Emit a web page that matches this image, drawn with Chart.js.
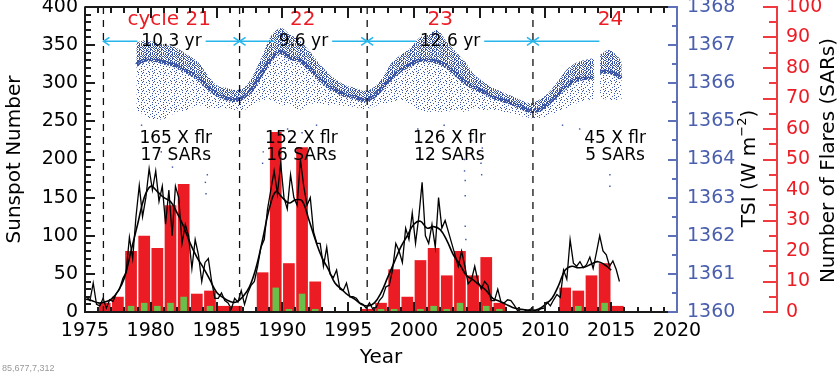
<!DOCTYPE html>
<html>
<head>
<meta charset="utf-8">
<script src="https://cdn.jsdelivr.net/npm/chart.js@4.4.1/dist/chart.umd.min.js"></script>
<style>
  html, body { margin: 0; padding: 0; background: #fff; }
  #wrap { position: relative; width: 839px; height: 374px; }
</style>
</head>
<body>
<div id="wrap"><canvas id="c"></canvas></div>
<script>
// ---- data ----
// sunspot number, one sample per quarter starting 1975.125
const ssnQuarterly = [
  20, 15, 38, 10,   8, 18, 5, 16,   14, 24, 30, 44,   52, 98, 70, 125,
  166, 125, 150, 188,   160, 185, 145, 165,   115, 160, 100, 165,   150, 90, 115, 100,
  57, 95, 75, 40,   65, 70, 40, 18,   18, 25, 15, 12,   4, 18, 13, 28,
  10, 25, 35, 40,   60, 85, 95, 135,   160, 185, 155, 195,   150, 135, 180, 150,
  140, 200, 165, 140,   150, 105, 90, 90,   60, 85, 50, 45,   55, 30, 28, 38,
  20, 20, 18, 12,   10, 5, 12, 4,   6, 15, 20, 33,   35, 55, 90, 80,
  65, 110, 95, 130,   90, 125, 170, 100,   90, 115, 85, 150,   110, 120, 105, 90,
  75, 60, 80, 60,   37, 42, 60, 40,   30, 40, 35, 15,   15, 30, 13, 12,
  16, 15, 9, 2,   3, 3, 1, 4,   2, 1, 4, 5,   13, 8, 16, 23,
  19, 55, 43, 95,   64, 60, 66, 58,   62, 72, 57, 78,   100, 80, 75, 60,
  67, 56, 40
];
// smoothed sunspot number, every half year from 1975.0
const ssnSmoothed = [
  17, 15, 12, 13, 17, 27, 45, 80, 115, 150,
  165, 158, 150, 145, 130, 112, 90, 72, 58, 42,
  26, 19, 14, 13, 20, 33, 58, 95, 135, 158,
  150, 143, 147, 146, 122, 95, 72, 56, 38, 30,
  22, 17, 10, 8, 12, 25, 45, 65, 85, 100,
  115, 119, 110, 112, 108, 94, 75, 62, 48, 42,
  35, 28, 18, 14, 10, 6, 4, 3, 2, 4,
  10, 18, 35, 55, 60, 58, 59, 63, 66, 62, 55
];

// yearly flare counts (right axis)
const barYears = [1976, 1977, 1978, 1979, 1980, 1981, 1982, 1983, 1984, 1985,
  1986, 1987, 1988, 1989, 1990, 1991, 1992, 1993, 1994, 1995,
  1996, 1997, 1998, 1999, 2000, 2001, 2002, 2003, 2004, 2005,
  2006, 2007, 2008, 2009, 2010, 2011, 2012, 2013, 2014, 2015];
const xFlares = [3, 5, 20, 25, 21, 35, 42, 6, 7, 2,
  2, 0, 13, 59, 16, 54, 10, 0, 0, 0,
  1, 3, 14, 5, 17, 21, 12, 20, 12, 18,
  3, 0, 0, 0, 0, 8, 7, 12, 16, 2];
const sarCounts = [0, 0, 2, 3, 2, 3, 5, 0, 2, 0,
  0, 0, 0, 8, 1, 6, 1, 0, 0, 0,
  0, 1, 1, 0, 1, 2, 1, 3, 0, 2,
  1, 0, 0, 0, 0, 0, 2, 0, 3, 0];

// TSI cloud: upper edge, dense core, lower edge (W m-2)
const tsiYears = [1978.9, 1979.5, 1980.3, 1981.2, 1982.0, 1982.8, 1983.6, 1984.3, 1985.0, 1985.7,
  1986.4, 1987.1, 1987.8, 1988.5, 1989.2, 1989.9, 1990.6, 1991.3, 1992.0, 1992.7,
  1993.4, 1994.1, 1994.8, 1995.5, 1996.2, 1996.9, 1997.6, 1998.3, 1999.0, 1999.7,
  2000.4, 2001.1, 2001.8, 2002.5, 2003.2, 2003.9, 2004.6, 2005.3, 2006.0, 2006.7,
  2007.4, 2008.1, 2008.8, 2009.5, 2010.2, 2010.9, 2011.6, 2012.3, 2013.0, 2013.7,
  2013.9, 2014.15, 2014.8, 2015.4, 2015.8];
const tsiTop = [1367.06, 1367.13, 1367.08, 1367.00, 1366.92, 1366.74, 1366.56, 1366.22, 1365.95, 1365.88,
  1365.82, 1365.88, 1366.22, 1366.74, 1367.27, 1367.45, 1367.27, 1367.13, 1366.87, 1366.56,
  1366.30, 1366.09, 1365.95, 1365.88, 1365.80, 1365.88, 1366.14, 1366.53, 1366.74, 1366.92,
  1367.19, 1367.27, 1367.40, 1367.08, 1366.82, 1366.56, 1366.22, 1366.03, 1365.88, 1365.77,
  1365.67, 1365.56, 1365.48, 1365.56, 1365.74, 1366.03, 1366.35, 1366.53, 1366.61, 1366.66,
  null, 1366.74, 1366.87, 1366.74, 1366.56];
const tsiCore = [1366.48, 1366.61, 1366.61, 1366.53, 1366.45, 1366.30, 1366.14, 1365.90, 1365.72, 1365.61,
  1365.56, 1365.64, 1365.90, 1366.30, 1366.66, 1366.82, 1366.66, 1366.61, 1366.40, 1366.16,
  1365.95, 1365.80, 1365.69, 1365.64, 1365.56, 1365.64, 1365.88, 1366.14, 1366.35, 1366.48,
  1366.61, 1366.61, 1366.56, 1366.45, 1366.24, 1366.03, 1365.88, 1365.77, 1365.64, 1365.56,
  1365.48, 1365.38, 1365.27, 1365.30, 1365.46, 1365.69, 1365.93, 1366.09, 1366.14, 1366.14,
  null, 1366.30, 1366.30, 1366.22, 1366.14];
const tsiLow = [1365.30, 1365.17, 1365.04, 1365.09, 1365.25, 1365.30, 1365.43, 1365.35, 1365.35, 1365.35,
  1365.30, 1365.30, 1365.43, 1365.56, 1365.56, 1365.43, 1365.43, 1365.30, 1365.43, 1365.48,
  1365.43, 1365.43, 1365.40, 1365.38, 1365.32, 1365.38, 1365.46, 1365.51, 1365.56, 1365.43,
  1365.30, 1365.25, 1365.25, 1365.25, 1365.30, 1365.25, 1365.35, 1365.30, 1365.30, 1365.25,
  1365.22, 1365.14, 1365.09, 1365.09, 1365.14, 1365.25, 1365.35, 1365.46, 1365.56, 1365.56,
  null, 1365.61, 1365.56, 1365.56, 1365.56];
// isolated low TSI readings
const tsiDipYears = [1979.3, 1980.1, 1980.8, 1981.6, 1981.65, 1982.2, 1984.15, 1984.2, 1984.3, 1988.5,
  1988.55, 1989.5, 1990.4, 1991.4, 1991.5, 1992.6, 2000.3, 2001.4, 2002.3, 2003.85,
  2003.85, 2003.9, 2003.9, 2003.9, 2003.95, 2004.4, 2005.1, 2005.15, 2005.2, 2011.3,
  2012.6, 2014.9, 2014.9, 2015.3];
const tsiDipValues = [1364.9, 1364.6, 1364.2, 1364.0, 1363.8, 1364.5, 1363.4, 1363.1, 1363.6, 1363.9,
  1364.2, 1364.6, 1364.8, 1364.3, 1364.7, 1364.9, 1364.8, 1364.7, 1364.9, 1364.0,
  1363.7, 1363.45, 1363.05, 1362.25, 1361.9, 1364.5, 1363.9, 1363.6, 1364.3, 1364.9,
  1364.8, 1363.6, 1363.3, 1364.7];

// annotations
const cycleMinima = [1976.4, 1986.75, 1996.45, 2009.05];
const cycleLengths = ['10.3 yr', '9.6 yr', '12.6 yr'];
const arrowEnd = 2014.1;
const arrowLevel = 355;
const cycleNames = ['cycle 21', '22', '23', '24'];
const cycleNameYears = [1981.4, 1991.55, 2002.0, 2014.95];
const cycleNameLevel = 383;
const flareTexts = ['165 X flr', '152 X flr', '126 X flr', '45 X flr'];
const sarTexts = ['17 SARs', '16 SARs', '12 SARs', '5 SARs'];
const statYears = [1981.9, 1991.45, 2002.7, 2015.3];
const flareTextLevel = 227, sarTextLevel = 205;

// axis limits
const yearMin = 1975, yearMax = 2020, ssnMax = 400;

const FONT = '"DejaVu Sans", sans-serif';
const BLUE = '#3b55a6', AXBLUE = '#5d70b8', RED = '#ec1c24', AXRED = '#ef3a40', GREEN = '#6abf4a', CYAN = '#27b5ec';

const canvas = document.getElementById('c');
const ctx0 = canvas.getContext('2d');

function maskPattern(rows, color) {
  const c = document.createElement('canvas');
  c.width = rows[0].length; c.height = rows.length;
  const g = c.getContext('2d');
  g.fillStyle = color;
  rows.forEach((r, j) => [...r].forEach((ch, i) => { if (ch === 'x') g.fillRect(i, j, 1, 1); }));
  return ctx0.createPattern(c, 'repeat');
}
const densePat = maskPattern([
  'xx.xxx.xx.x', 'x.xx.xxx.xx', '.xxx.xx.xxx', 'xx.xxx.xx.x', 'x.xx.x.xxx.',
  'xxx.xxxx.xx', '.x.xx.xxxx.', 'xxxx.xx.x.x', 'x.x.xxx.xxx'], BLUE);
const medPat = maskPattern([
  'x.xx..xx.x.', '.x.x.x.x..x', 'x.x..xx.xx.', '.xx.x..x..x', 'x..x.x.xx..',
  '.x.xx..x.x.', 'x..x.xx...x', '.xx..x.x.x.', 'x..xx..x.x.'], BLUE);
const sparsePat = maskPattern([
  'x.....x....', '...x......x', '......x....', '.x.......x.', '....x......',
  '.........x.', '..x....x...', 'x..........', '.....x...x.'], BLUE);

const pts = (xs, ys) => xs.map((x, i) => ({ x: x, y: ys[i] }));

let frameNote = 'none';

function drawFrame(chart) {
  const { ctx, chartArea: a, scales: s } = chart;
  const X = v => s.x.getPixelForValue(v);
  const Y = v => s.y.getPixelForValue(v);
  ctx.save();
  ctx.globalAlpha = 1;
  ctx.globalCompositeOperation = 'source-over';
  ctx.setTransform(1, 0, 0, 1, 0, 0);
  const L = Math.round(a.left), R = Math.round(a.right), T = Math.round(a.top), B = Math.round(a.bottom);
  frameNote = [L, R, T, B].join(',');
  const hl = (x1, x2, y) => ctx.fillRect(Math.min(x1, x2), Math.round(y) - 1, Math.abs(x2 - x1) + 1, 2);
  const vl = (x, y1, y2) => ctx.fillRect(Math.round(x) - 1, Math.min(y1, y2), 2, Math.abs(y2 - y1) + 1);
  ctx.fillStyle = '#1a1a1a';
  vl(L, T, B);
  hl(L, R, T);
  hl(L, R, B);
  for (let v = 0; v <= ssnMax; v += 10) hl(L, L + (v % 50 ? 5 : 9), Y(v));
  for (let yr = yearMin; yr <= yearMax; yr++) {
    const px = X(yr), len = yr % 5 ? 5 : 10;
    vl(px, B - len, B);
    vl(px, T, T + len);
  }
  ctx.fillStyle = AXBLUE;
  vl(R, T, B);
  for (let v = 1360; v <= 1368; v += 0.5) hl(R - (v % 1 ? 5 : 9), R, s.yTsi.getPixelForValue(v));
  const rx = Math.round(s.yFlr.left);
  ctx.fillStyle = AXRED;
  vl(rx, T, B);
  for (let v = 0; v <= 100; v += 5) hl(rx - (v % 10 ? 8 : 14), rx, s.yFlr.getPixelForValue(v));
  ctx.restore();
}

function drawNotes(chart) {
  const { ctx, chartArea: a, scales: s } = chart;
  const X = v => s.x.getPixelForValue(v);
  const Y = v => s.y.getPixelForValue(v);
  const seg = (x1, y1, x2, y2) => { ctx.beginPath(); ctx.moveTo(x1, y1); ctx.lineTo(x2, y2); ctx.stroke(); };
  ctx.save();
  ctx.strokeStyle = '#111'; ctx.lineWidth = 1.3; ctx.setLineDash([7, 6]);
  cycleMinima.forEach(m => seg(X(m), a.top, X(m), a.bottom));
  ctx.setLineDash([]);
  const ay = Y(arrowLevel);
  ctx.font = '17px ' + FONT; ctx.textAlign = 'center'; ctx.textBaseline = 'middle';
  ctx.strokeStyle = CYAN; ctx.lineWidth = 1.5;
  const head = (px, dir) => { ctx.beginPath(); ctx.moveTo(px + dir * 6, ay - 4); ctx.lineTo(px, ay); ctx.lineTo(px + dir * 6, ay + 4); ctx.stroke(); };
  cycleMinima.forEach((m, i) => {
    const x0 = X(m);
    head(x0, 1);
    if (i < cycleLengths.length) {
      const x1 = X(cycleMinima[i + 1]);
      head(x1, -1);
      const cx = (x0 + x1) / 2, w = ctx.measureText(cycleLengths[i]).width / 2 + 4;
      seg(x0, ay, cx - w, ay); seg(cx + w, ay, x1, ay);
      ctx.fillStyle = '#000'; ctx.fillText(cycleLengths[i], cx, ay);
    } else {
      seg(x0, ay, X(arrowEnd), ay);
    }
  });
  ctx.font = '20px ' + FONT; ctx.fillStyle = RED;
  cycleNames.forEach((t, i) => ctx.fillText(t, X(cycleNameYears[i]), Y(cycleNameLevel)));
  ctx.font = '17px ' + FONT; ctx.fillStyle = '#000';
  statYears.forEach((yr, i) => {
    ctx.fillText(flareTexts[i], X(yr), Y(flareTextLevel));
    ctx.fillText(sarTexts[i], X(yr), Y(sarTextLevel));
  });
  ctx.restore();
}

function drawSideTitles(chart) {
  const { ctx, chartArea: a, scales: s } = chart;
  const mid = (a.top + a.bottom) / 2;
  const f1 = '20px ' + FONT, f2 = '13px ' + FONT;
  ctx.save();
  ctx.fillStyle = '#000'; ctx.textBaseline = 'middle'; ctx.textAlign = 'left';
  ctx.font = f1;
  const wA = ctx.measureText('TSI (W m').width, wC = ctx.measureText(')').width;
  ctx.font = f2;
  const wB = ctx.measureText('\u22122').width;
  ctx.translate(s.yTsi.right - 27, mid + 9);
  ctx.rotate(-Math.PI / 2);
  let sx = -(wA + wB + wC) / 2;
  ctx.font = f1; ctx.fillText('TSI (W m', sx, 0); sx += wA;
  ctx.font = f2; ctx.fillText('\u22122', sx, -7); sx += wB;
  ctx.font = f1; ctx.fillText(')', sx, 0);
  ctx.restore();
  ctx.save();
  ctx.fillStyle = '#000'; ctx.textBaseline = 'middle'; ctx.textAlign = 'center'; ctx.font = f1;
  ctx.translate(s.yFlr.right - 10, mid + 1);
  ctx.rotate(-Math.PI / 2);
  ctx.fillText('Number of Flares (SARs)', 0, 0);
  ctx.restore();
}

const overlay = {
  id: 'overlay',
  beforeDraw(chart) {
    const c = chart.ctx;
    c.save(); c.fillStyle = '#fff'; c.fillRect(0, 0, chart.width, chart.height); c.restore();
  },
  afterDraw(chart) {
    let err = '';
    try { drawNotes(chart); } catch (e) { err += 'n:' + e.message + ' '; }
    try { drawSideTitles(chart); } catch (e) { err += 's:' + e.message + ' '; }
    try { drawFrame(chart); } catch (e) { err += 'f:' + e.message + ' '; }
    const c = chart.ctx;
    c.save();
    c.fillStyle = '#999'; c.font = '9px sans-serif'; c.textAlign = 'left'; c.textBaseline = 'alphabetic';
    c.fillText(frameNote + ' ' + err, 2, 371);
    c.restore();
  }
};

new Chart(ctx0, {
  type: 'bar',
  data: {
    datasets: [
      { type: 'line', data: pts(tsiYears, tsiTop), yAxisID: 'yTsi', order: 10,
        borderWidth: 0, borderColor: 'rgba(0,0,0,0)', pointRadius: 0, tension: 0.3,
        fill: '+1', backgroundColor: medPat, spanGaps: false },
      { type: 'line', data: pts(tsiYears, tsiCore), yAxisID: 'yTsi', order: 10,
        borderWidth: 4, borderColor: densePat, pointRadius: 0, tension: 0.3,
        fill: '+1', backgroundColor: sparsePat, spanGaps: false },
      { type: 'line', data: pts(tsiYears, tsiLow), yAxisID: 'yTsi', order: 10,
        borderWidth: 0, borderColor: 'rgba(0,0,0,0)', pointRadius: 0, tension: 0.3,
        fill: false, spanGaps: false },
      { type: 'line', data: pts(tsiDipYears, tsiDipValues), yAxisID: 'yTsi', order: 9,
        showLine: false, pointRadius: 1, pointStyle: 'rect', pointBorderWidth: 0,
        pointBackgroundColor: BLUE },
      { type: 'bar', data: pts(barYears.map(y => y + 0.5), xFlares), yAxisID: 'yFlr', order: 6,
        backgroundColor: RED, grouped: false, barPercentage: 0.89, categoryPercentage: 1 },
      { type: 'bar', data: pts(barYears.map(y => y + 0.5), sarCounts), yAxisID: 'yFlr', order: 5,
        backgroundColor: GREEN, grouped: false, barPercentage: 0.5, categoryPercentage: 1 },
      { type: 'line', data: ssnSmoothed.map((v, i) => ({ x: 1975 + i * 0.5, y: v })), yAxisID: 'y', order: 2,
        borderColor: '#000', borderWidth: 1.6, pointRadius: 0, tension: 0.4, fill: false },
      { type: 'line', data: ssnQuarterly.map((v, i) => ({ x: 1975.125 + i * 0.25, y: v })), yAxisID: 'y', order: 1,
        borderColor: '#000', borderWidth: 1.3, pointRadius: 0, tension: 0, fill: false },
      // plot frame traced along the axis limits (drawn unclipped)
      { type: 'line', data: [{ x: yearMin, y: 0 }, { x: yearMin, y: ssnMax }, { x: yearMax, y: ssnMax }, { x: yearMax, y: 0 }, { x: yearMin, y: 0 }],
        yAxisID: 'y', order: 0, clip: false, borderColor: '#1a1a1a', borderWidth: 1.6, pointRadius: 0,
        tension: 0, fill: false }
    ]
  },
  options: {
    responsive: true,
    maintainAspectRatio: false,
    animation: false,
    devicePixelRatio: 1,
    events: [],
    layout: { padding: { top: 7, left: 0, right: 0, bottom: 0 } },
    plugins: { legend: { display: false }, tooltip: { enabled: false } },
    scales: {
      x: {
        type: 'linear', position: 'bottom', min: yearMin, max: yearMax, offset: false,
        grid: { display: false, drawTicks: false }, border: { display: false },
        ticks: { stepSize: 5, autoSkip: false, maxRotation: 0, padding: 8, color: '#000',
          font: { family: FONT, size: 19 }, callback: v => String(v) },
        title: { display: true, text: 'Year', color: '#000', font: { family: FONT, size: 20 },
          padding: { top: 0, bottom: 4 } },
        afterFit(sc) { sc.height = 62; sc.paddingLeft = 0; sc.paddingRight = 0; }
      },
      y: {
        position: 'left', min: 0, max: ssnMax,
        grid: { display: false, drawTicks: false }, border: { display: false },
        ticks: { stepSize: 50, padding: 7, color: '#000', font: { family: FONT, size: 19 } },
        title: { display: true, text: 'Sunspot Number', color: '#000', font: { family: FONT, size: 20 },
          padding: { top: 3, bottom: 0 } },
        afterFit(sc) { sc.width = 85; sc.paddingTop = 0; sc.paddingBottom = 0; }
      },
      yTsi: {
        position: 'right', weight: 0, min: 1360, max: 1368,
        grid: { display: false, drawTicks: false }, border: { display: false },
        ticks: { stepSize: 1, padding: 10, color: '#4a5fae', font: { family: FONT, size: 19 },
          callback: v => String(v) },
        afterFit(sc) { sc.width = 100; sc.paddingTop = 0; sc.paddingBottom = 0; }
      },
      yFlr: {
        position: 'right', weight: 1, min: 0, max: 100,
        grid: { display: false, drawTicks: false }, border: { display: false },
        ticks: { stepSize: 10, padding: 9, color: RED, font: { family: FONT, size: 19 } },
        afterFit(sc) { sc.width = 62; sc.paddingTop = 0; sc.paddingBottom = 0; }
      }
    }
  },
  plugins: [overlay]
});
</script>
</body>
</html>
